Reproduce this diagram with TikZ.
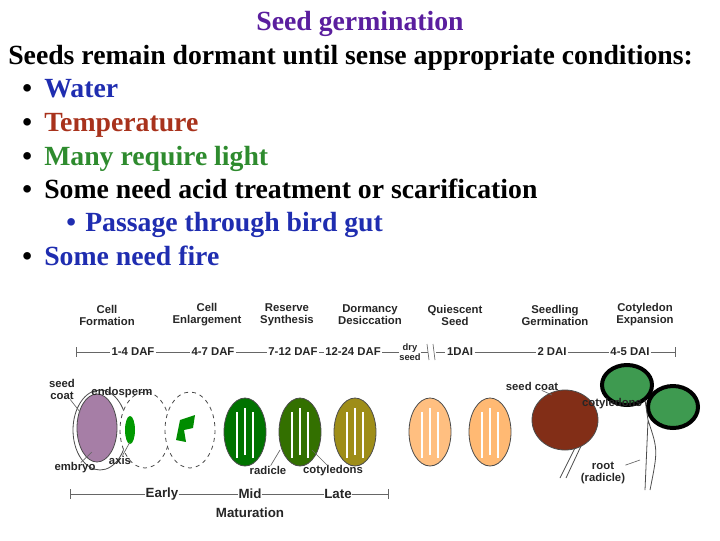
\documentclass[tikz,border=0pt]{standalone}
\usepackage{fontspec}
\setmainfont{Liberation Serif}
\newfontfamily\dsf{Liberation Sans}
\definecolor{ttl}{HTML}{5A1E9E}
\definecolor{wblue}{HTML}{1F2DB0}
\definecolor{tbrown}{HTML}{A8321C}
\definecolor{lgreen}{HTML}{2E8B2E}
\definecolor{cotg}{HTML}{3E9A50}
\begin{document}
\begin{tikzpicture}[x=0.75pt,y=-0.75pt,
  slide/.style={font=\fontsize{20.8}{22}\selectfont\bfseries,anchor=base west,inner sep=0},
  lab/.style={font=\dsf\fontsize{8.5}{9}\selectfont\bfseries,text=black!85,inner sep=0,align=center},
  tl/.style={draw=black!60,line width=0.5pt},
  seed/.style={draw=black!70,line width=0.6pt}]
\useasboundingbox (0,0) rectangle (720,540);
\node[slide,anchor=base,text=ttl] (t) at (360,30) {Seed germination};
\node[slide] (l0) at (8,64) {Seeds remain dormant until sense appropriate conditions:};
\foreach \y/\c/\t [count=\i] in {97/wblue/Water,131/tbrown/Temperature,165/lgreen/Many require light,198/black/Some need acid treatment or scarification,265/wblue/Some need fire}{
  \node[slide] (b\i) at (22,\y) {•};
  \node[slide,text=\c] (s\i) at (44,\y) {\t};}
\node[slide,text=wblue] (sb) at (66,231) {•};
\node[slide,text=wblue] (ss) at (85,231) {Passage through bird gut};
% stage labels
\foreach \x/\a/\b [count=\i] in {107/Cell/Formation,207/Cell/Enlargement,287/Reserve/Synthesis,370/Dormancy/Desiccation,455/Quiescent/Seed,555/Seedling/Germination,645/Cotyledon/Expansion}
  \node[lab] (st\i) at (\x,315) {\a\\\b};
% timeline
\coordinate (ts) at (76,352); \coordinate (te) at (675,352);
\foreach \x/\t [count=\i] in {133/1-4 DAF,213/4-7 DAF,293/7-12 DAF,353/12-24 DAF,460/1DAI,552/2 DAI,630/4-5 DAI}
  \node[lab,fill=white,inner sep=1pt] (d\i) at (\x,352) {\t};
\node[lab,fill=white,font=\dsf\fontsize{7}{7}\selectfont\bfseries] (dry) at (410,352) {dry\\seed};
\draw[tl] (ts) -- (d1) -- (d2) -- (d3) -- (d4) -- (dry);
\draw[tl] (dry) -- (428,352); \draw[tl] (436,352) -- (d5) -- (d6) -- (d7) -- (te);
\draw[tl] (76,347) -- (76,357); \draw[tl] (675,347) -- (675,357);
\draw[tl] (427,344) -- (429,360); \draw[tl] (433,344) -- (435,360);
% seeds
\draw[seed,fill=white] (100,430) ellipse (27 and 40);
\draw[seed,fill=violet!45!gray!70] (97,428) ellipse (20 and 34);
\draw[seed,dashed,fill=white] (145,430) ellipse (25 and 38);
\fill[green!60!black] (130,430) ellipse (5 and 14);
\draw[seed,dashed,fill=white] (190,430) ellipse (25 and 38);
\fill[green!55!black] (180,420) -- (195,415) -- (193,428) -- (184,430) -- (186,442) -- (176,440) -- cycle;
\foreach \x/\c in {245/green!45!black,300/green!40!black!60!olive,355/olive!70!brown,430/orange!50!white,490/orange!55!white}{
  \draw[seed,fill=\c] (\x,432) ellipse (21 and 34);
  \draw[white,line width=1.2pt] (\x-8,458) -- (\x-8,412) (\x+8,458) -- (\x+8,412) (\x,455) -- (\x,408);}
\draw[seed,fill=brown!60!red!60!black] (565,420) ellipse (33 and 30);
\draw[seed] (575,448) -- (560,478) (581,446) -- (566,478);
\draw[black,line width=3pt,fill=cotg] (627,385) ellipse (25 and 20);
\draw[black,line width=3pt,fill=cotg] (673,407) ellipse (25 and 21);
\draw[seed] (645,400) -- (648,420) -- (645,490) (648,420) .. controls (658,450) .. (650,490);
% seed labels
\node[lab] (sc1) at (62,389) {seed\\coat};
\node[lab] (en) at (122,393) {endosperm};
\node[lab] (emb) at (75,468) {embryo};
\node[lab] (ax) at (120,460) {axis};
\node[lab] (rad) at (268,470) {radicle};
\node[lab] (cot) at (333,471) {cotyledons};
\node[lab] (sc2) at (532,386) {seed coat};
\node[lab] (cot2) at (612,404) {cotyledons};
\node[lab] (root) at (603,473) {root\\(radicle)};
\draw[tl] (sc1) -- (80,412); \draw[tl] (emb) -- (92,452); \draw[tl] (ax) -- (130,442);
\draw[tl] (rad) -- (280,450); \draw[tl] (cot) -- (312,450);
\draw[tl] (sc2) -- (552,395); \draw[tl] (root) -- (640,460);
% maturation
\node[lab,font=\dsf\fontsize{10}{10}\selectfont\bfseries] (ea) at (162,494) {Early};
\node[lab,font=\dsf\fontsize{10}{10}\selectfont\bfseries] (mi) at (250,494) {Mid};
\node[lab,font=\dsf\fontsize{10}{10}\selectfont\bfseries] (la) at (338,494) {Late};
\node[lab,font=\dsf\fontsize{10}{10}\selectfont\bfseries] (ma) at (250,513) {Maturation};
\draw[tl] (70,494) -- (ea) (ea) -- (mi) (mi) -- (la) (la) -- (388,494);
\draw[tl] (70,489) -- (70,499) (388,489) -- (388,499);
\end{tikzpicture}
\end{document}
